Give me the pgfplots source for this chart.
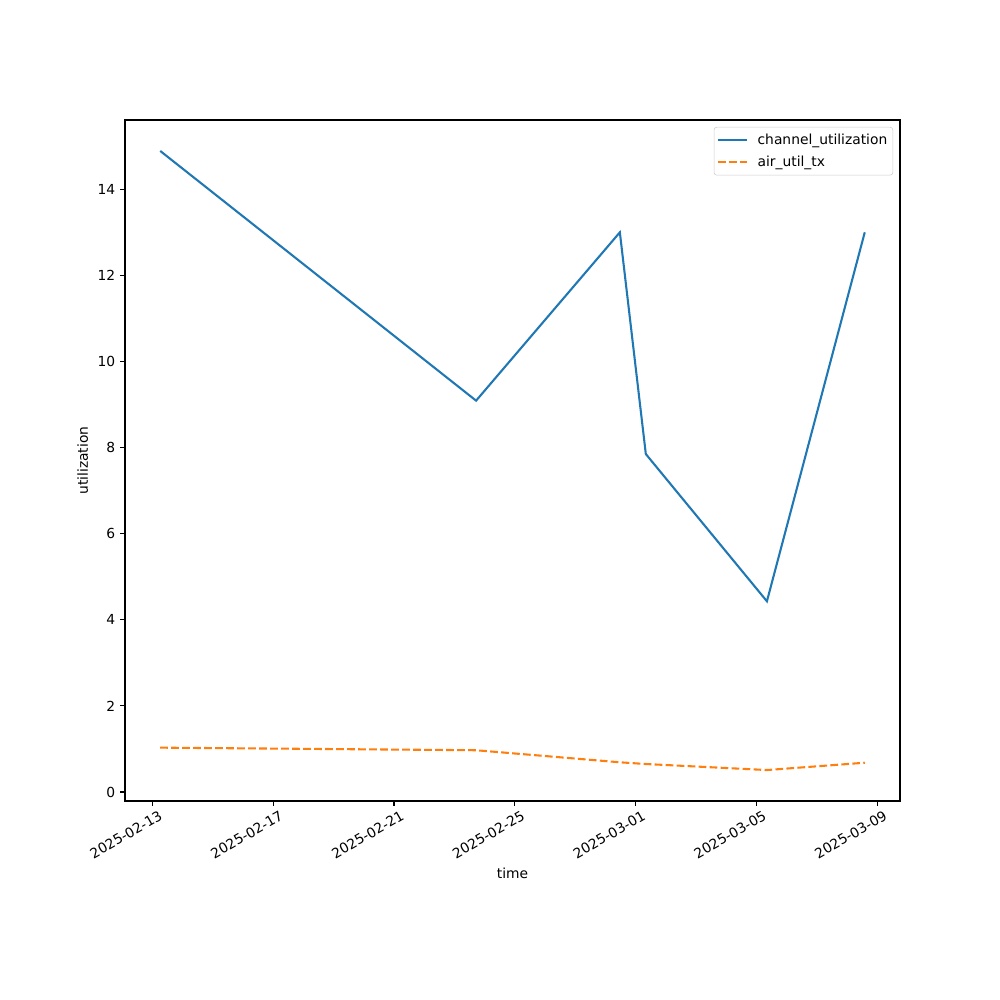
\documentclass[border=0pt]{standalone}
\usepackage{pgfplots}
\pgfplotsset{compat=1.18}
\usepackage{fontspec}
\setmainfont{DejaVu Sans}
\definecolor{c0}{HTML}{1F77B4}
\definecolor{c1}{HTML}{FF7F0E}
\begin{document}
\begin{tikzpicture}
\begin{axis}[
  at={(0,0)}, anchor=south west,
  scale only axis, width=7.75in, height=6.81in,
  xmin=-0.9065, xmax=24.757,
  ymin=-0.209, ymax=15.609,
  xtick={0,4,8,12,16,20,24},
  xticklabels={2025-02-13,2025-02-17,2025-02-21,2025-02-25,2025-03-01,2025-03-05,2025-03-09},
  xticklabel style={xshift=5pt, rotate=30, anchor=north east, inner sep=2pt},
  ytick={0,2,...,14},
  /pgf/number format/assume math mode=true,
  tick align=outside, xtick pos=bottom, ytick pos=left,
  major tick length=3.5pt,
  every tick/.style={line width=0.8pt, black},
  axis line style={line width=0.8pt},
  tick label style={font=\fontsize{10}{12}\selectfont},
  label style={font=\fontsize{10}{12}\selectfont},
  xlabel={time}, ylabel={utilization},
  legend style={at={(1,1)}, xshift=-5pt, yshift=-5pt, anchor=north east, draw=black!20, rounded corners=2pt, font=\fontsize{10}{12}\selectfont, row sep=2.5pt, inner ysep=3pt, inner xsep=2pt},
  legend cell align=left,
  legend image code/.code={\draw[#1] (0pt,0pt) -- (21pt,0pt); \path (26pt,0pt);},
]
\addplot[color=c0, line width=1.5pt] coordinates {
(0.26,14.89) (10.72,9.09) (15.48,13.0) (16.34,7.85) (20.35,4.43) (23.59,13.0)};
\addlegendentry{channel\_utilization}
\addplot[color=c1, line width=1.5pt, dash pattern=on 5.55pt off 2.4pt] coordinates {
(0.26,1.03) (10.72,0.97) (15.48,0.69) (16.34,0.65) (20.35,0.51) (23.59,0.68)};
\addlegendentry{air\_util\_tx}
\end{axis}
\useasboundingbox (-1.25in,-1.99in) rectangle (8.75in,8.01in);
\end{tikzpicture}
\end{document}
